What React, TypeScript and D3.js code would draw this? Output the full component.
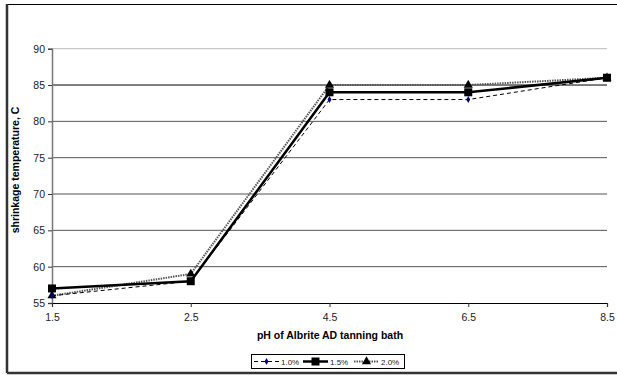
import { useRef, useEffect } from 'react';
import * as d3 from 'd3';

const PH_LABELS = ['1.5', '2.5', '4.5', '6.5', '8.5'];
const SERIES_10 = [56, 58, 83, 83, 86];
const SERIES_15 = [57, 58, 84, 84, 86];
const SERIES_20 = [56, 59, 85, 85, 86];
const Y_TICKS = [55, 60, 65, 70, 75, 80, 85, 90];
const SERIES_NAMES = ['1.0%', '1.5%', '2.0%'];

const FONT = '"Liberation Sans", Arial, sans-serif';

export default function App() {
  const svgRef = useRef<SVGSVGElement | null>(null);

  useEffect(() => {
    if (!svgRef.current) return;
    const width = 617;
    const height = 375;
    const svg = d3.select(svgRef.current);
    svg.selectAll('*').remove();
    svg.attr('width', width).attr('height', height);

    // chart border (Excel-ish frame with shadow on left/bottom)
    svg.append('rect').attr('x', 7.5).attr('y', 4.5).attr('width', 620).attr('height', 368)
      .attr('fill', '#fff').attr('stroke', '#000').attr('stroke-width', 1);
    svg.append('line').attr('x1', 7).attr('x2', 7).attr('y1', 4).attr('y2', 373)
      .attr('stroke', '#333').attr('stroke-width', 2.5);
    svg.append('line').attr('x1', 7).attr('x2', 617).attr('y1', 373).attr('y2', 373)
      .attr('stroke', '#333').attr('stroke-width', 2.5);

    const x = d3.scalePoint<string>().domain(PH_LABELS).range([52, 607]);
    const y = d3.scaleLinear().domain([55, 90]).range([303, 48.7]);

    // gridlines
    svg.append('g').selectAll('line').data(Y_TICKS.filter(t => t > 55)).enter().append('line')
      .attr('x1', 52).attr('x2', 607)
      .attr('y1', d => y(d)).attr('y2', d => y(d))
      .attr('stroke', d => d === 90 ? '#bbb' : d === 85 ? '#000' : '#555')
      .attr('stroke-width', 1);

    // y axis
    const yAxis = svg.append('g').attr('transform', 'translate(52,0)')
      .call(d3.axisLeft(y).tickValues(Y_TICKS).tickSize(4).tickPadding(3).tickFormat(d3.format('d')));
    yAxis.select('.domain').attr('stroke', '#777').attr('stroke-width', 1.5);
    yAxis.selectAll('.tick line').attr('stroke', '#333');
    yAxis.selectAll('text').attr('font-family', FONT).attr('font-size', 10.5).attr('fill', '#222');

    // x axis
    const xAxis = svg.append('g').attr('transform', `translate(0,${y(55)})`)
      .call(d3.axisBottom(x).tickSize(4).tickPadding(7));
    xAxis.select('.domain').attr('stroke', '#000').attr('stroke-width', 1.2);
    xAxis.selectAll('.tick line').attr('stroke', '#333');
    xAxis.selectAll('text').attr('font-family', FONT).attr('font-size', 10.5).attr('fill', '#222');

    // axis titles
    svg.append('text').attr('x', 330).attr('y', 339).attr('text-anchor', 'middle')
      .attr('font-family', FONT).attr('font-size', 10.5).attr('font-weight', 'bold')
      .text('pH of Albrite AD tanning bath');
    svg.append('text').attr('transform', 'translate(19,170) rotate(-90)').attr('text-anchor', 'middle')
      .attr('font-family', FONT).attr('font-size', 10.5).attr('font-weight', 'bold')
      .text('shrinkage temperature, C');

    const line = d3.line<number>().x((_, i) => x(PH_LABELS[i]) as number).y(d => y(d));

    const styles = [
      { data: SERIES_10, stroke: '#000', width: 1, dash: '4,3', marker: 'diamond' },
      { data: SERIES_15, stroke: '#000', width: 2.5, dash: null, marker: 'square' },
      { data: SERIES_20, stroke: '#555', width: 2, dash: '1.5,1', marker: 'triangle' },
    ];

    const drawMarker = (g: any, kind: string, cx: number, cy: number) => {
      if (kind === 'square') {
        g.append('rect').attr('x', cx - 4).attr('y', cy - 4).attr('width', 8).attr('height', 8).attr('fill', '#000');
      } else if (kind === 'triangle') {
        g.append('path').attr('d', d3.symbol(d3.symbolTriangle, 36)()).attr('transform', `translate(${cx},${cy})`).attr('fill', '#000');
      } else {
        g.append('path').attr('d', d3.symbol(d3.symbolDiamond, 14)()).attr('transform', `translate(${cx},${cy})`).attr('fill', '#000080');
      }
    };

    // draw 2.0% first, then 1.0%, then 1.5% on top
    [2, 0, 1].forEach(k => {
      const s = styles[k];
      const g = svg.append('g');
      g.append('path').attr('d', line(s.data)).attr('fill', 'none')
        .attr('stroke', s.stroke).attr('stroke-width', s.width)
        .attr('stroke-dasharray', s.dash);
      s.data.forEach((v, i) => drawMarker(g, s.marker, x(PH_LABELS[i]) as number, y(v)));
    });

    // legend
    const lg = svg.append('g');
    lg.append('rect').attr('x', 251.5).attr('y', 354.5).attr('width', 153).attr('height', 14)
      .attr('fill', '#fff').attr('stroke', '#000').attr('stroke-width', 1);
    const legendX = [254, 303, 354];
    SERIES_NAMES.forEach((name, k) => {
      const s = styles[k];
      const lx = legendX[k];
      lg.append('line').attr('x1', lx).attr('x2', lx + 25).attr('y1', 361.5).attr('y2', 361.5)
        .attr('stroke', s.stroke).attr('stroke-width', s.width).attr('stroke-dasharray', s.dash);
      drawMarker(lg, s.marker, lx + 12.5, 361.5);
      lg.append('text').attr('x', lx + 27).attr('y', 364.5)
        .attr('font-family', FONT).attr('font-size', 8).attr('fill', '#222').text(name);
    });
  }, []);

  return (
    <div style={{ position: 'absolute', left: 0, top: 0 }}>
      <svg ref={svgRef} style={{ display: 'block' }} />
    </div>
  );
}
